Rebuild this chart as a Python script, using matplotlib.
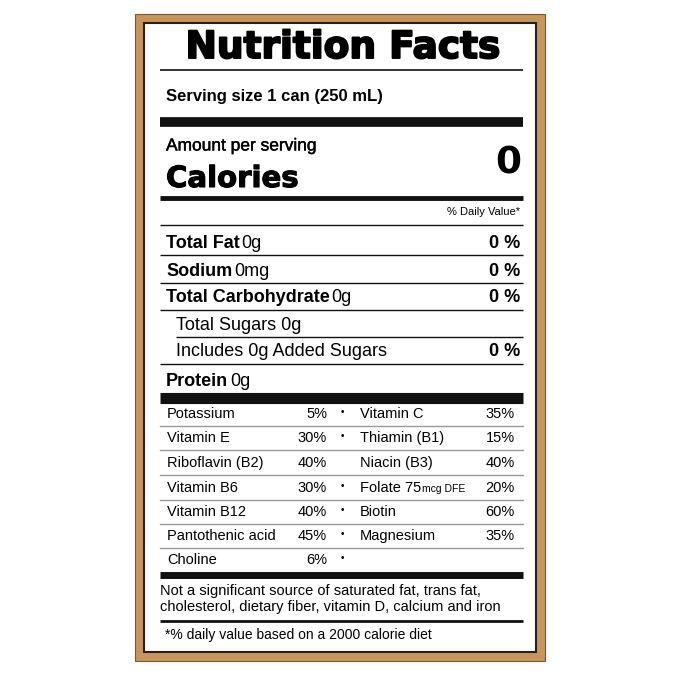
import matplotlib.pyplot as plt
import matplotlib.patheffects as pe
from matplotlib.patches import Rectangle

plt.rcParams['font.family'] = ['Liberation Sans', 'DejaVu Sans']

# === Label data ===
serving = "Serving size 1 can (250 mL)"
calories = "0"
macro_names = ["Total Fat", "Sodium", "Total Carbohydrate", "Total Sugars", "Includes 0g Added Sugars", "Protein"]
macro_amounts = ["0g", "0mg", "0g", "0g", "", "0g"]
macro_dv = ["0 %", "0 %", "0 %", "", "0 %", ""]
macro_bold = [True, True, True, False, False, True]
macro_indent = [False, False, False, True, True, False]

vit_left = ["Potassium", "Vitamin E", "Riboflavin (B2)", "Vitamin B6", "Vitamin B12", "Pantothenic acid", "Choline"]
vit_left_dv = ["5%", "30%", "40%", "30%", "40%", "45%", "6%"]
vit_bullet = [True, True, False, True, True, True, True]
vit_right = ["Vitamin C", "Thiamin (B1)", "Niacin (B3)", "Folate", "Biotin", "Magnesium", ""]
vit_right_dv = ["35%", "15%", "40%", "20%", "60%", "35%", ""]

footer1 = "Not a significant source of saturated fat, trans fat,\ncholesterol, dietary fiber, vitamin D, calcium and iron"
footer2 = "*% daily value based on a 2000 calorie diet"

fig = plt.figure(figsize=(6.79, 6.79), dpi=100)
ax = fig.add_axes([0, 0, 1, 1])
ax.set_xlim(0, 679)
ax.set_ylim(679, 0)
ax.axis('off')

# === Border ===
ax.add_patch(Rectangle((135, 14), 410, 647, facecolor='#c8955a', edgecolor='#7a5a30', lw=0.8))
ax.add_patch(Rectangle((144, 23), 392, 629, facecolor='white', edgecolor='#222222', lw=1.5))

L, R = 160, 523

def hline(y, w, x0=L):
    ax.plot([x0, R], [y, y], color='#111111', lw=w, solid_capstyle='butt')

# === Header ===
ax.text(343, 48, "Nutrition Facts", fontsize=27, weight='bold', family='DejaVu Sans',
        ha='center', va='center', path_effects=[pe.withStroke(linewidth=1.4, foreground='black')])
hline(70, 1.2)
ax.text(166, 96, serving, fontsize=12, weight='bold', va='center')
hline(121.5, 7)
ax.text(166, 146, "Amount per serving", fontsize=12.5, va='center',
        path_effects=[pe.withStroke(linewidth=0.3, foreground='black')])
ax.text(166, 179, "Calories", fontsize=21, weight='bold', family='DejaVu Sans', va='center',
        path_effects=[pe.withStroke(linewidth=0.8, foreground='black')])
ax.text(521, 163, calories, fontsize=27, weight='bold', family='DejaVu Sans', ha='right', va='center')
hline(198, 3.5)
ax.text(520, 212, "% Daily Value*", fontsize=8, ha='right', va='center')
hline(225, 1)

# === Macros ===
ys = [243, 271, 298, 325, 352, 381]
for i, y in enumerate(ys):
    x = 176 if macro_indent[i] else 166
    if macro_bold[i]:
        t = ax.text(x, y, macro_names[i], fontsize=13, weight='bold', va='center')
        fig.canvas.draw()
        bb = t.get_window_extent().transformed(ax.transData.inverted())
        ax.text(bb.x1 + 2, y, macro_amounts[i], fontsize=13, va='center')
    else:
        ax.text(x, y, (macro_names[i] + " " + macro_amounts[i]).strip(), fontsize=13, va='center')
    if macro_dv[i]:
        ax.text(520, y, macro_dv[i], fontsize=13, weight='bold', ha='right', va='center')
    if i < len(ys) - 1:
        hline(y + 12, 1, x0=L if i != 3 else 176)
hline(398, 8)

# === Vitamins ===
vy = [414, 438, 463, 488, 512, 536, 560]
for i, y in enumerate(vy):
    ax.text(167, y, vit_left[i], fontsize=10.5, va='center')
    ax.text(327, y, vit_left_dv[i], fontsize=10.5, ha='right', va='center')
    if vit_bullet[i]:
        ax.text(342, y - 2, "•", fontsize=7, ha='center', va='center')
    if vit_right[i] == "Folate":
        t = ax.text(360, y, "Folate 75", fontsize=10.5, va='center')
        fig.canvas.draw()
        bb = t.get_window_extent().transformed(ax.transData.inverted())
        ax.text(bb.x1 + 1, y + 1, "mcg DFE", fontsize=7.5, va='center')
    elif vit_right[i]:
        ax.text(360, y, vit_right[i], fontsize=10.5, va='center')
    if vit_right_dv[i]:
        ax.text(515, y, vit_right_dv[i], fontsize=10.5, ha='right', va='center')
    if i < len(vy) - 1:
        ax.plot([L, R], [y + 12, y + 12], color='#999999', lw=1)
hline(575, 5)

# === Footer ===
ax.text(160, 599, footer1, fontsize=10.5, va='center', linespacing=1.2)
hline(621, 2)
ax.text(165, 635, footer2, fontsize=10, va='center')

fig.savefig("out.png", dpi=100)
